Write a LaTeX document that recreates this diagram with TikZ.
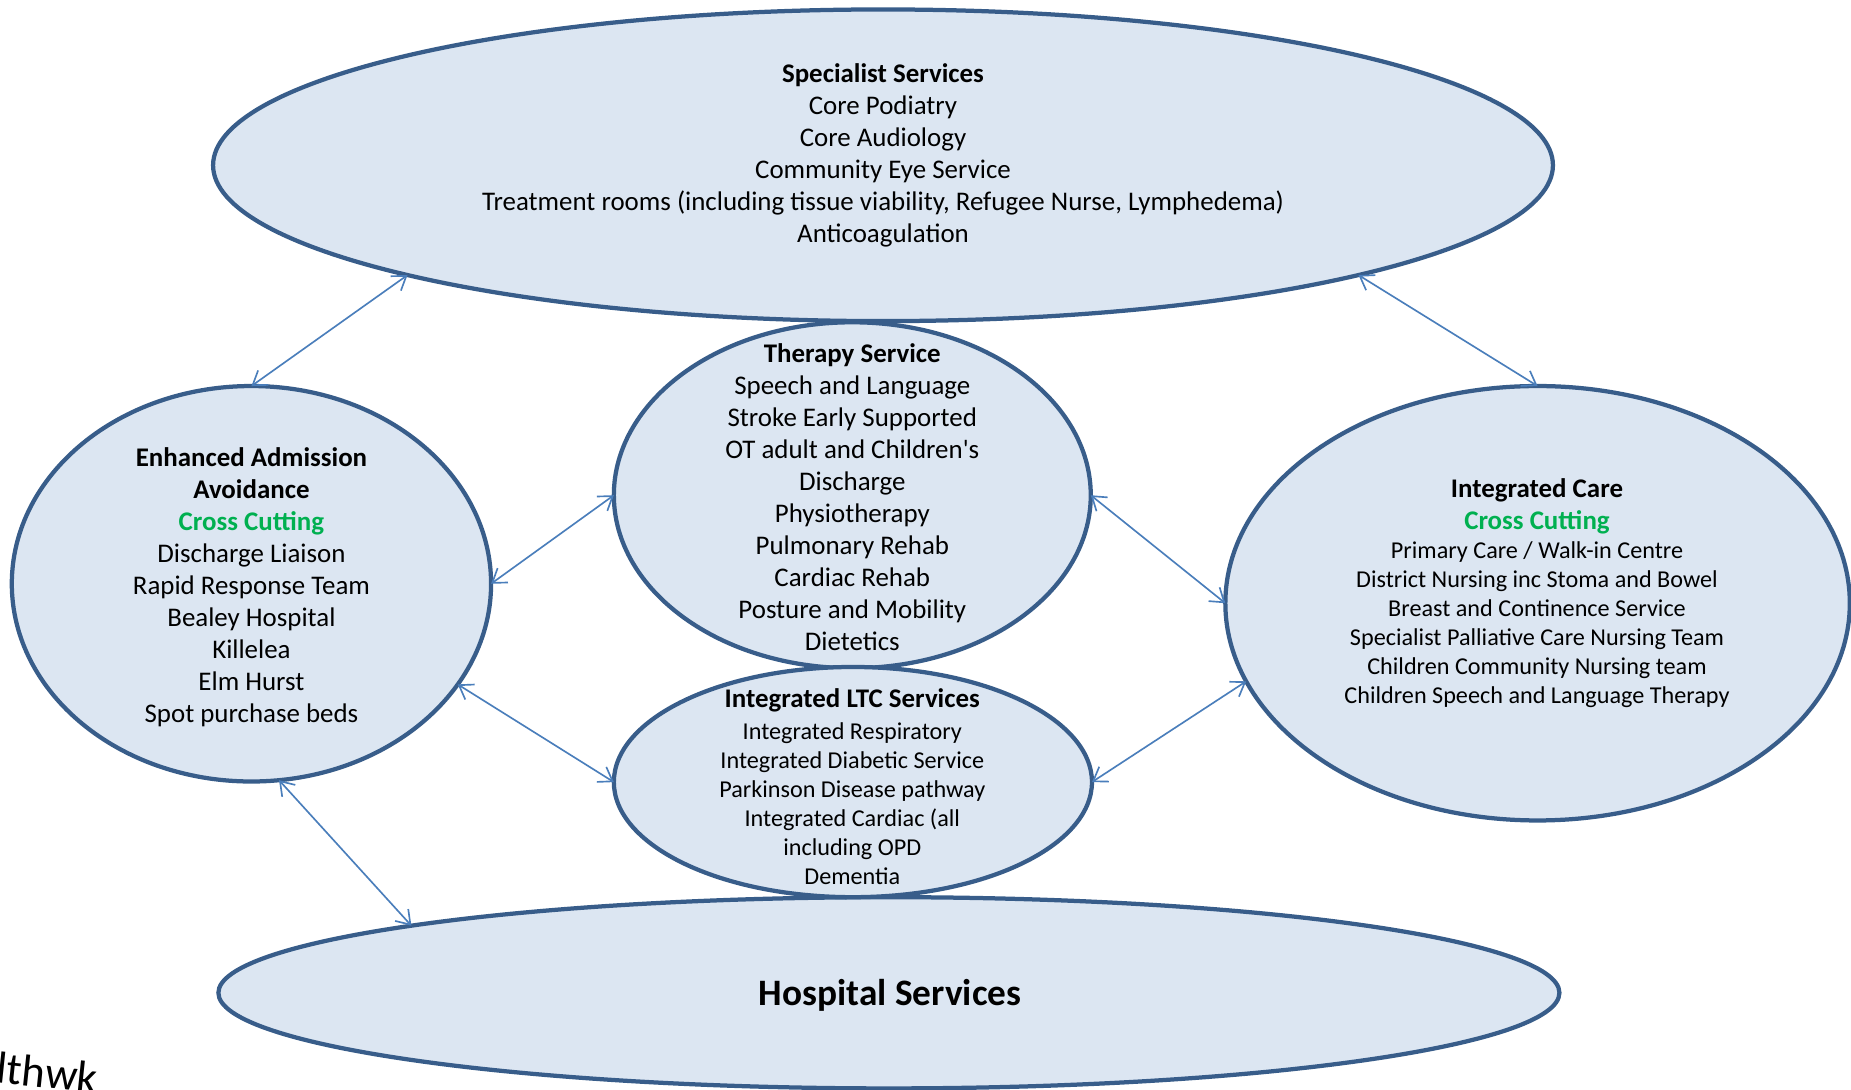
\documentclass[tikz,border=0pt]{standalone}
\usepackage{fontspec}
\setmainfont{Carlito}
\usetikzlibrary{shapes.geometric,arrows.meta}
\definecolor{ellline}{HTML}{385D8A}
\definecolor{ellfill}{HTML}{DCE6F2}
\definecolor{arrblue}{HTML}{4A7EBB}
\definecolor{ccgreen}{HTML}{00B050}
\begin{document}
\begin{tikzpicture}[x=0.5pt,y=-0.5pt,
  oval/.style={ellipse, draw=ellline, fill=ellfill, line width=1.8pt, inner sep=0pt, outer sep=0pt},
  link/.style={draw=arrblue, line width=0.7pt, {Straight Barb[length=5.5pt,width=7.5pt]}-{Straight Barb[length=5.5pt,width=7.5pt]}},
  body/.style={align=center, font=\fontsize{11.4}{13.55}\selectfont, inner sep=0pt},
  small/.style={align=center, font=\fontsize{10.25}{12.3}\selectfont, inner sep=0pt},
]
\useasboundingbox (0,0) rectangle (1568,922.5);

% ellipses
\node[oval, minimum width=567.5pt, minimum height=132pt] (spec) at (748,140) {};
\node[oval, minimum width=568pt, minimum height=81pt] (hosp) at (753,841) {};
\node[oval, minimum width=203pt, minimum height=167.5pt] (eaa) at (213,494.5) {};
\node[oval, minimum width=202pt, minimum height=146.5pt] (ther) at (722,419.5) {};
\node[oval, minimum width=202.5pt, minimum height=97.5pt] (ltc) at (722.5,662.5) {};
\node[oval, minimum width=264.5pt, minimum height=184pt] (ic) at (1302.5,511) {};

% texts
\node[body] (specT) at (748,132) {\textbf{Specialist Services}\\Core Podiatry\\Core Audiology\\Community Eye Service\\Treatment rooms (including tissue viability, Refugee Nurse, Lymphedema)\\Anticoagulation};
\node[body] (eaaT) at (213,497.5) {\textbf{Enhanced Admission}\\\textbf{Avoidance}\\\textcolor{ccgreen}{\textbf{Cross Cutting}}\\Discharge Liaison\\Rapid Response Team\\Bealey Hospital\\Killelea\\Elm Hurst\\Spot purchase beds};
\node[body] (therT) at (722,421.5) {\textbf{Therapy Service}\\Speech and Language\\Stroke Early Supported\\OT adult and Children\textquotesingle s\\Discharge\\Physiotherapy\\Pulmonary Rehab\\Cardiac Rehab\\Posture and Mobility\\Dietetics};
\node[body] (ltcT) at (722,593.5) {\textbf{Integrated LTC Services}};
\node[small] (ltcL) at (722,680.5) {Integrated Respiratory\\Integrated Diabetic Service\\Parkinson Disease pathway\\Integrated Cardiac (all\\including OPD\\Dementia};
\node[body] (icT) at (1302,428.5) {\textbf{Integrated Care}\\\textcolor{ccgreen}{\textbf{Cross Cutting}}};
\node[small] (icL) at (1302,529) {Primary Care / Walk-in Centre\\District Nursing inc Stoma and Bowel\\Breast and Continence Service\\Specialist Palliative Care Nursing Team\\Children Community Nursing team\\Children Speech and Language Therapy};
\node[inner sep=0pt, font=\fontsize{15.8}{18}\selectfont\bfseries] (hospT) at (754,843) {Hospital Services};

% connectors
\draw[link] (spec.193.5) -- (eaa.north);
\draw[link] (spec.347.0) -- (ic.north);
\draw[link] (ther.west) -- (eaa.east);
\draw[link] (ther.east) -- (ic.west);
\draw[link] (eaa.-26.2) -- (ltc.west);
\draw[link] (ltc.east) -- (ic.195.4);
\draw[link] (eaa.278.5) -- (hosp.172.6);

% cut-off handwritten fragment
\begin{scope}
\clip (0,0) rectangle (1568,922.5);
\node[inner sep=0pt, anchor=base west, rotate=-6, font=\fontsize{19}{22}\selectfont] (hw) at (-4,917) {lthwk};
\end{scope}
\end{tikzpicture}
\end{document}
